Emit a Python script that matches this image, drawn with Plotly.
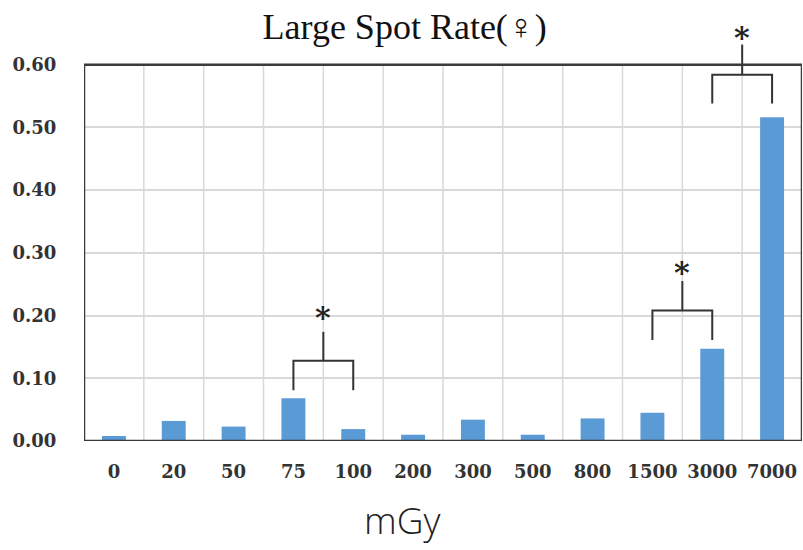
import plotly.graph_objects as go

# ---- data ----
categories = ["0", "20", "50", "75", "100", "200", "300", "500", "800", "1500", "3000", "7000"]
rates = [0.008, 0.032, 0.023, 0.068, 0.019, 0.010, 0.034, 0.010, 0.036, 0.045, 0.147, 0.516]
y_ticks = [0.0, 0.1, 0.2, 0.3, 0.4, 0.5, 0.6]
y_tick_labels = ["0.00", "0.10", "0.20", "0.30", "0.40", "0.50", "0.60"]

# significance brackets (left index, right index) and their levels
sig_left = [3, 9, 10]
sig_right = [4, 10, 11]
sig_leg_bottom = [0.081, 0.161, 0.538]
sig_level = [0.128, 0.208, 0.584]
sig_stem_top = [0.174, 0.255, 0.632]
sig_star_y = [0.197, 0.269, 0.644]

title_text = "Large Spot Rate(♀)"
x_title = "mGy"

# ---- styles ----
BAR_COLOR = "#5B9BD5"
GRID = "#D9D9D9"
FRAME = "#3a3a3a"
TICK_FONT = dict(family="DejaVu Serif", size=18, color="#333333", weight="bold")

idx = list(range(len(categories)))

fig = go.Figure()
fig.add_trace(go.Bar(x=idx, y=rates, marker=dict(color=BAR_COLOR, line=dict(width=0)),
                     showlegend=False, hoverinfo="skip"))

# brackets
for l, r, lb, lv, st in zip(sig_left, sig_right, sig_leg_bottom, sig_level, sig_stem_top):
    mid = (l + r) / 2
    fig.add_trace(go.Scatter(
        x=[l, l, r, r, None, mid, mid],
        y=[lb, lv, lv, lb, None, lv, st],
        mode="lines", line=dict(color="#333333", width=2),
        showlegend=False, hoverinfo="skip"))

for l, r, sy in zip(sig_left, sig_right, sig_star_y):
    fig.add_annotation(x=(l + r) / 2, y=sy, xref="x", yref="y", text="*",
                       showarrow=False, yanchor="middle",
                       font=dict(family="DejaVu Serif", size=30, color="#222222", weight="bold"))

# vertical category-boundary gridlines (between categories)
for i in idx[:-1]:
    fig.add_shape(type="line", xref="x", yref="y", x0=i + 0.5, x1=i + 0.5,
                  y0=y_ticks[0], y1=y_ticks[-1], line=dict(color=GRID, width=1.5), layer="below")

# frame
fig.add_shape(type="rect", xref="x", yref="y", x0=idx[0] - 0.5, x1=idx[-1] + 0.5,
              y0=y_ticks[0], y1=y_ticks[-1], line=dict(color=FRAME, width=2.5), layer="above")

fig.add_annotation(xref="paper", yref="paper", x=0.444, y=-0.19, text=x_title,
                   showarrow=False, yanchor="middle",
                   font=dict(family="Open Sans", size=37, color="#222222", weight=300))

fig.update_layout(
    width=803, height=550,
    margin=dict(l=84, r=1, t=27, b=109),
    paper_bgcolor="white", plot_bgcolor="white",
    bargap=0.6,
    title=dict(text=title_text, x=0.504, xref="container", y=0.952, yref="container",
               xanchor="center", yanchor="middle",
               font=dict(family="Liberation Serif", size=36, color="#111111")),
    xaxis=dict(range=[idx[0] - 0.5, idx[-1] + 0.5], tickvals=idx, ticktext=categories,
               showgrid=False, zeroline=False, showline=False,
               ticks="outside", ticklen=14, tickcolor="rgba(0,0,0,0)",
               tickfont=TICK_FONT),
    yaxis=dict(range=[0, 0.66], tickvals=y_ticks, ticktext=y_tick_labels,
               showgrid=True, gridcolor=GRID, gridwidth=1.5, zeroline=False, showline=False,
               ticks="outside", ticklen=23, tickcolor="rgba(0,0,0,0)",
               tickfont=TICK_FONT),
)

fig.write_html("out.html", config={"displayModeBar": False},
               post_script="document.body.style.margin='0';")
